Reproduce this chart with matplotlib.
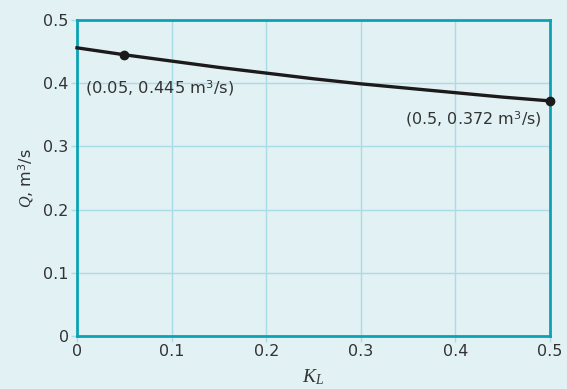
import matplotlib
matplotlib.use("Agg")
import matplotlib.pyplot as plt

K_L = [0.0, 0.05, 0.1, 0.15, 0.2, 0.25, 0.3, 0.35, 0.4, 0.45, 0.5]
Q = [0.456, 0.445, 0.435, 0.425, 0.416, 0.407, 0.399, 0.392, 0.385, 0.378, 0.372]
pt_K = [0.05, 0.5]
pt_Q = [0.445, 0.372]
labels = ["(0.05, 0.445 m$^3$/s)", "(0.5, 0.372 m$^3$/s)"]
xticks = [0, 0.1, 0.2, 0.3, 0.4, 0.5]
xticklabels = ["0", "0.1", "0.2", "0.3", "0.4", "0.5"]
yticks = [0, 0.1, 0.2, 0.3, 0.4, 0.5]
yticklabels = ["0", "0.1", "0.2", "0.3", "0.4", "0.5"]

plt.rcParams['font.family'] = ['DejaVu Sans']
plt.rcParams['mathtext.fontset'] = 'custom'
plt.rcParams['mathtext.rm'] = 'DejaVu Sans'
plt.rcParams['mathtext.it'] = 'Liberation Serif:italic'

bg = '#e1f1f4'
spine = '#0aa3b5'
gridc = '#a9dce5'
txt = '#333333'

fig = plt.figure(figsize=(5.67, 3.89), dpi=100, facecolor=bg)
ax = fig.add_axes([77/567, 1-336/389, (550-77)/567, (336-20)/389])
ax.set_facecolor(bg)
ax.set_xlim(0, 0.5)
ax.set_ylim(0, 0.5)
ax.set_xticks(xticks)
ax.set_xticklabels(xticklabels)
ax.set_yticks(yticks)
ax.set_yticklabels(yticklabels)
ax.grid(True, color=gridc, linewidth=1.0)
ax.set_axisbelow(True)
for s in ax.spines.values():
    s.set_color(spine)
    s.set_linewidth(2.0)
ax.tick_params(axis='both', length=4, color=gridc, width=1.0, labelsize=11.5, labelcolor=txt, pad=2)

ax.plot(K_L, Q, color='#1c1a1a', linewidth=2.4, clip_on=False, zorder=3)
ax.plot(pt_K, pt_Q, 'o', color='#1c1a1a', markersize=6, clip_on=False, zorder=4)

ax.text(0.0085, 0.393, labels[0], fontsize=11.7, color=txt, ha='left', va='center')
ax.text(0.4915, 0.343, labels[1], fontsize=11.5, color=txt, ha='right', va='center')

ax.set_xlabel(r'$K_L$', fontsize=14, color=txt, labelpad=6)
ax.set_ylabel(r'$Q$, m$^3$/s', fontsize=11.5, color=txt, labelpad=5)

fig.savefig('out.png', dpi=100, facecolor=bg)
